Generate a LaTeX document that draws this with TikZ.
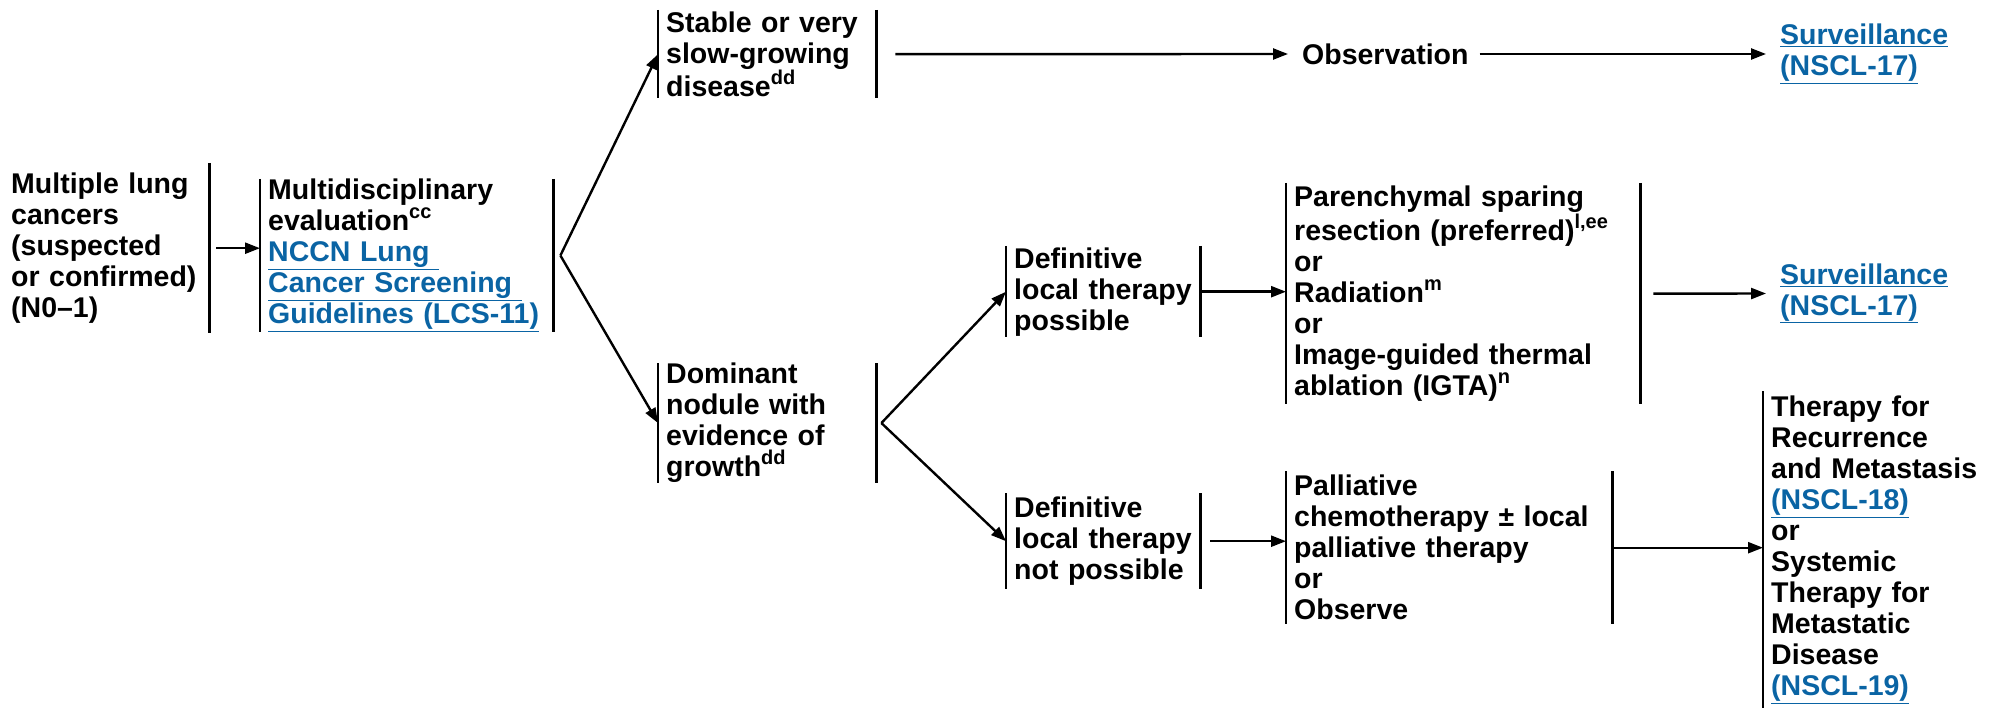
\documentclass[tikz,border=0pt]{standalone}
\usepackage{fontspec}
\setmainfont{Liberation Sans}
\usetikzlibrary{arrows.meta}
\definecolor{linkblue}{HTML}{0A64A4}
\newcommand\lnk[1]{{\color{linkblue}\underline{#1}}}
\newcommand\supx[1]{\raisebox{0.42em}{\fontsize{20}{20}\selectfont #1}}
\hyphenpenalty=10000
\exhyphenpenalty=10000
\begin{document}
\begin{tikzpicture}[x=1pt,y=-1pt,
  font=\bfseries\fontsize{28.5}{31}\selectfont,
  box/.style={anchor=north west, inner xsep=8pt, inner ysep=0pt, align=left},
  plain/.style={anchor=west, inner sep=0pt, align=left},
  bar/.style={line width=2.4pt},
  arr/.style={line width=2.4pt, -{Triangle[length=15pt,width=11pt]}}]
\useasboundingbox (0,0) rectangle (2009,708);

\node[box, text width=190pt, minimum height=170pt] (A) at (3,163)
  {\mbox{Multiple lung}\\cancers\\(suspected\\\mbox{or confirmed)}\\(N0–1)};
\node[box, text width=277pt, minimum height=150pt] (B) at (260,179)
  {Multidisciplinary\\evaluation\supx{cc}\\\lnk{NCCN Lung\ }\\\lnk{Cancer Screening\ }\\\lnk{Guidelines (LCS-11)}};
\node[box, text width=202pt, minimum height=88pt] (S) at (658,10)
  {Stable or very\\slow-growing\\disease\supx{dd}};
\node[plain] (O) at (1302,54) {Observation};
\node[plain] (V1) at (1780,54) {\lnk{Surveillance}\\\lnk{(NSCL-17)}};
\node[box, text width=202pt, minimum height=117pt] (D) at (658,363)
  {Dominant\\nodule with\\evidence of\\growth\supx{dd}};
\node[box, text width=178pt, minimum height=91pt] (P) at (1006,246)
  {Definitive\\\mbox{local therapy}\\possible};
\node[box, text width=338pt, minimum height=221pt] (R) at (1286,183)
  {Parenchymal sparing\\resection (preferred)\supx{l,ee}\\or\\Radiation\supx{m}\\or\\Image-guided thermal\\ablation (IGTA)\supx{n}};
\node[plain] (V2) at (1780,293.5) {\lnk{Surveillance}\\\lnk{(NSCL-17)}};
\node[box, text width=178pt, minimum height=96pt] (N) at (1006,493)
  {Definitive\\\mbox{local therapy}\\\mbox{not possible}};
\node[box, text width=310pt, minimum height=153pt] (L) at (1286,471)
  {Palliative\\\mbox{chemotherapy ± local}\\palliative therapy\\or\\Observe};
\node[box, text width=230pt, minimum height=317pt] (T) at (1763,391)
  {Therapy for\\Recurrence\\\mbox{and Metastasis}\\\lnk{(NSCL-18)}\\or\\Systemic\\Therapy for\\Metastatic\\Disease\\\lnk{(NSCL-19)}};

% bars
\draw[bar] (A.north east) -- (A.south east);
\foreach \n in {B,S,D,P,R,N,L}{
  \draw[bar] (\n.north west) -- (\n.south west);
  \draw[bar] (\n.north east) -- (\n.south east);
}
\draw[bar] (T.north west) -- (T.south west);

% connectors
\draw[arr] ([xshift=7pt]A.east) -- (A.east -| B.west);
\coordinate (b1) at ([xshift=7pt]B.east);
\draw[arr] (b1) -- (S.west);
\draw[arr] (b1) -- (D.west);
\draw[arr] ([xshift=19pt]S.east) -- ([xshift=-14pt]O.west);
\draw[arr] ([xshift=11pt]O.east) -- ([xshift=-14pt]V1.west);
\coordinate (d1) at ([xshift=5pt]D.east);
\draw[arr] (d1) -- (P.west);
\draw[arr] (d1) -- (N.west);
\draw[arr] (P.east) -- (P.east -| R.west);
\draw[arr] ([xshift=13pt]R.east) -- ([xshift=-14pt]V2.west);
\draw[arr] ([xshift=10pt]N.east) -- (N.east -| L.west);
\draw[arr] (L.east) -- (L.east -| T.west);
\end{tikzpicture}
\end{document}
